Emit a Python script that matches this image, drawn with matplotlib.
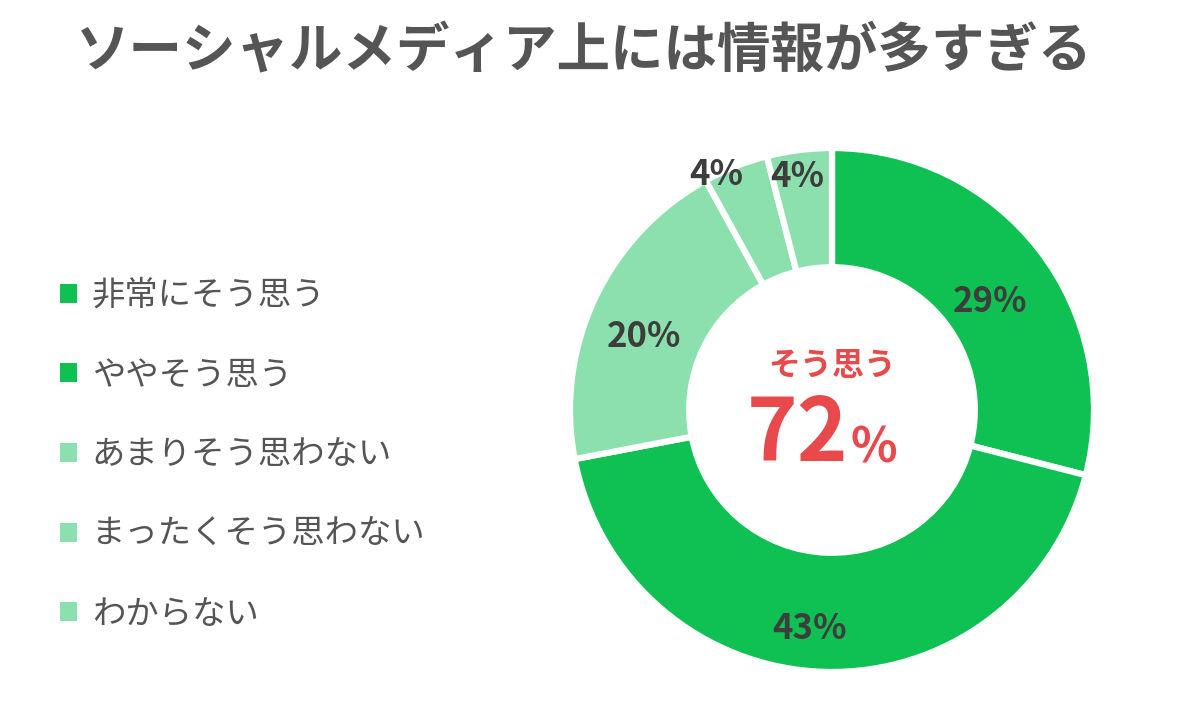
import numpy as np
import matplotlib.pyplot as plt
from matplotlib.patches import Patch

plt.rcParams['font.family'] = ['Noto Sans CJK JP', 'DejaVu Sans']

title = "ソーシャルメディア上には情報が多すぎる"
categories = ["非常にそう思う", "ややそう思う", "あまりそう思わない", "まったくそう思わない", "わからない"]
values = [29, 43, 20, 4, 4]
colors = ["#0fc052", "#0fc052", "#8ce0ad", "#8ce0ad", "#8ce0ad"]
label_radius = [0.73, 0.84, 0.77, 1.0, 0.9]
label_shift = [3.4, 4, -3.9, -4.6, -1.3]  # degrees off the slice middle
center_caption = "そう思う"
center_total = values[0] + values[1]

W, H = 1200, 719
fig = plt.figure(figsize=(W / 100, H / 100), dpi=100)
ax = fig.add_axes([0, 0, 1, 1])

cx, cy, R = 832, H - 410, 262
wedges, _ = ax.pie(values, colors=colors, startangle=90, counterclock=False,
                   center=(cx, cy), radius=R, frame=True,
                   wedgeprops=dict(width=R * 0.455, edgecolor='white', linewidth=4.5))
ax.set_xlim(0, W)
ax.set_ylim(0, H)
ax.set_aspect('equal')
ax.axis('off')

for w, v, rf, sh in zip(wedges, values, label_radius, label_shift):
    ang = np.deg2rad((w.theta1 + w.theta2) / 2 - sh)
    ax.text(cx + rf * R * np.cos(ang), cy + rf * R * np.sin(ang), f"{v}%",
            ha='center', va='center', fontsize=25, fontweight='bold', color='#3d3d3d')

red = '#e84a4c'
ax.text(cx, cy + 44, center_caption, ha='center', va='center', fontsize=23,
        fontweight='bold', color=red)
ax.text(cx + 16, cy - 26, str(center_total), ha='right', va='center', fontsize=62,
        fontweight='bold', color=red)
ax.text(cx + 19, cy - 38, "%", ha='left', va='center', fontsize=35,
        fontweight='bold', color=red)

ax.text(76, H - 52, title, ha='left', va='center', fontsize=38.5, fontweight='bold',
        color='#555555')

handles = [Patch(facecolor=c, edgecolor='none') for c in colors]
ax.legend(handles, categories, loc='upper left', bbox_to_anchor=(30 / W, 1 - 248 / H),
          frameon=False, fontsize=24, labelcolor='#555555', handlelength=0.5,
          handleheight=0.5, handletextpad=0.45, labelspacing=1.34)

fig.savefig('out.png', dpi=100, facecolor='white')
